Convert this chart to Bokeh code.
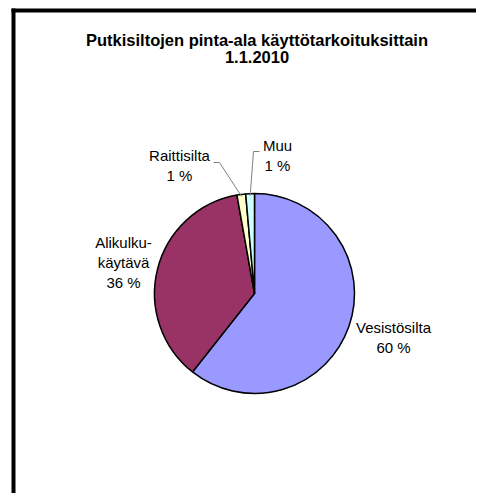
import math
from bokeh.plotting import figure
from bokeh.models import Range1d
from bokeh.core.properties import value
from bokeh.embed import file_html
from bokeh.resources import INLINE

# ---- data ----
categories = ["Vesistösilta", "Alikulkukäytävä", "Raittisilta", "Muu"]
shares = [60.4, 36.4, 1.4, 1.4]
label_lines = [["Vesistösilta", "60 %"], ["Alikulku-", "käytävä", "36 %"],
               ["Raittisilta", "1 %"], ["Muu", "1 %"]]
colors = ["#9999FF", "#993366", "#FFFFCC", "#CCFFFF"]
title_lines = ["Putkisiltojen pinta-ala käyttötarkoituksittain", "1.1.2010"]

# ---- layout (pixels in the picture; pie centre = (254, 293), radius 100) ----
CX, CY, R = 254.0, 293.0, 100.0
def dx(px):
    return (px - CX) / R
def dy(py):
    return (CY - py) / R

W, H = 476, 493
p = figure(width=W, height=H, x_range=Range1d(dx(0), dx(W)),
           y_range=Range1d(dy(H), dy(0)), min_border=0,
           toolbar_location=None, output_backend="svg",
           x_axis_type=None, y_axis_type=None)
p.grid.visible = False
p.outline_line_color = None
p.background_fill_color = "white"
p.border_fill_color = "white"

# chart-area border (top and left edges visible)
p.line([dx(11), dx(600)], [dy(10), dy(10)], line_color="black", line_width=4)
p.line([dx(13), dx(13)], [dy(8), dy(700)], line_color="black", line_width=4)

# pie slices, clockwise from 12 o'clock
total = sum(shares)
starts, ends, mids = [], [], []
acc = 0.0
for s in shares:
    a0 = math.pi / 2 - 2 * math.pi * acc / total
    acc += s
    a1 = math.pi / 2 - 2 * math.pi * acc / total
    starts.append(a0)
    ends.append(a1)
    mids.append((a0 + a1) / 2)

p.wedge(x=[0] * len(shares), y=[0] * len(shares), radius=1.0,
        start_angle=starts, end_angle=ends, direction="clock",
        fill_color=colors, line_color="black", line_width=1.5)

# leader lines for the thin slices
elbows = {2: [(213, 162), (219, 162)], 3: [(259, 151), (253, 151)]}
for i, pts in elbows.items():
    ex = 0.98 * math.cos(mids[i])
    ey = 0.98 * math.sin(mids[i])
    xs = [dx(pts[0][0]), dx(pts[1][0]), ex]
    ys = [dy(pts[0][1]), dy(pts[1][1]), ey]
    p.line(xs, ys, line_color="#808080", line_width=1)

# labels: centre x and first baseline (pixels)
label_pos = [(393, 327), (123, 242), (179, 155), (277, 145)]
line_gap = 20
for lines, (lx, ly) in zip(label_lines, label_pos):
    p.text(x=[dx(lx)] * len(lines), y=[dy(ly + k * line_gap) for k in range(len(lines))],
           text=lines, text_font=value("Liberation Sans"), text_font_size="15px",
           text_color="black", text_align="center", text_baseline="alphabetic")

# title
p.text(x=[dx(256.5)] * 2, y=[dy(39.5), dy(56.5)], text=title_lines,
       text_font=value("Liberation Sans"), text_font_size="16.5px",
       text_font_style="bold", text_color="black", text_align="center",
       text_baseline="alphabetic")

open("out.html", "w").write(file_html(p, INLINE))
